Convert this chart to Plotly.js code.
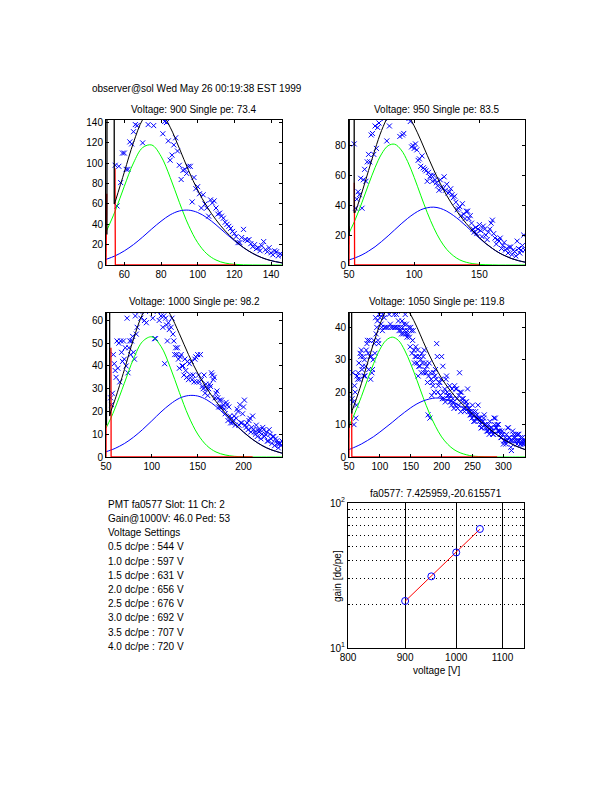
<!DOCTYPE html>
<html><head><meta charset="utf-8">
<script src="https://cdn.plot.ly/plotly-3.0.1.min.js"></script>
<style>html,body{margin:0;padding:0;background:#fff}#chart{width:612px;height:792px}</style>
</head><body><div id="chart"></div>
<script>
// ---------------- data ----------------
const voltages = [900, 950, 1000, 1050];
const singlePe = [73.4, 83.5, 98.2, 119.8];

// histogram counts (1 ADC-count bins, first bin given by *Start)
const h900Start = 55;
const h900Counts = [98,58,97,81,110,110,94,94,121,119,131,138,137,148,152,120,150,155,138,160,
150,137,156,149,158,150,129,141,140,122,103,108,118,125,112,98,84,93,94,90,
97,97,62,86,75,77,70,56,69,60,56,48,64,61,63,56,50,51,48,46,
42,40,38,36,33,31,28,22,22,27,35,25,24,25,21,18,20,16,17,14,
19,23,15,13,17,12,10,14,13,9,11,10];
const h950Start = 54;
const h950Counts = [81,38,44,49,47,58,38,57,64,56,69,74,69,87,88,74,93,78,92,95,
99,102,105,98,101,83,108,93,110,104,112,106,103,108,99,86,102,87,88,105,
99,101,98,96,79,80,78,81,77,70,71,66,73,65,64,63,56,62,59,60,
56,60,57,55,53,50,57,52,51,59,50,54,48,49,51,47,45,46,42,37,
38,39,33,41,34,31,36,36,31,33,28,24,22,25,21,24,27,23,19,26,
24,20,17,22,24,28,30,21,18,14,17,16,18,11,13,15,10,11,8,12,
12,7,10,9,6,16,11,8,10,13,20,10];
const h1000Start = 55;
const h1000Counts = [26,23,28,45,41,38,35,51,39,50,33,51,46,42,51,43,48,40,61,37,
48,51,45,51,53,46,43,62,54,57,66,64,68,61,70,65,67,60,64,59,
66,72,68,65,70,73,61,66,52,52,69,64,71,60,67,62,65,57,62,41,
61,58,51,59,56,66,57,61,54,51,45,48,45,48,43,39,44,45,40,40,
36,43,38,35,42,34,41,36,42,34,36,33,43,44,33,45,36,33,45,34,
31,30,36,28,32,30,27,30,32,31,37,36,34,35,26,28,29,26,22,25,
22,25,22,23,21,19,24,23,16,22,18,15,17,15,16,18,14,17,21,20,
14,23,15,15,19,22,25,14,13,15,12,16,17,11,13,18,12,11,10,14,
9,12,11,12,8,10,13,12,9,10,11,7,7,12,10,8,6,9,9,5,
8,7,6,4,6,6,5,7];
const h1050Start = 55;
const h1050Counts = [18,26,17,10,22,20,12,16,25,24,26,29,24,32,31,33,27,28,31,25,
30,25,28,33,35,36,32,27,36,31,24,31,26,27,30,36,35,32,43,38,
40,42,36,35,44,43,45,41,40,39,44,47,43,40,46,40,45,48,40,46,
44,47,41,40,46,45,40,49,44,40,47,40,44,45,40,42,39,46,40,39,
38,42,40,38,41,39,44,38,41,37,39,38,40,37,34,40,39,32,36,39,
33,29,31,34,31,29,33,25,28,31,28,30,26,32,29,31,26,33,27,29,
26,28,23,13,25,29,12,26,24,19,23,22,26,20,25,27,24,35,31,20,
22,23,23,19,24,31,18,28,20,18,21,17,24,25,20,19,19,18,22,17,
19,16,21,18,17,15,22,16,21,21,18,15,16,19,26,20,14,20,18,17,
18,15,14,15,17,17,16,21,15,14,15,13,14,13,12,16,14,11,13,11,
14,12,13,12,16,12,11,12,10,9,9,11,11,12,13,10,9,10,8,9,
8,10,7,11,9,8,9,8,7,7,12,10,12,9,9,10,8,10,8,8,
7,6,6,8,7,4,5,5,6,4,7,5,9,9,6,6,5,3,2,5,
8,7,6,5,6,7,5,4,7,5,7,5,4,6,4,5,6,4,5,4,5];

// fitted curves: single-pe (green), double-pe (blue), total (black), pedestal (red)
const fit900X = [50,55,60,65,70,75,80,85,90,95,100,105,110,115,120,125,130,135,140,146];
const green900 = [32.3,53.0,77.4,100.3,115.4,117.9,106.9,86.1,61.6,39.1,22.0,11.0,4.9,1.9,0.7,0.2,0.05,0,0,0];
const blue900 = [5.5,9.0,13.9,20.1,27.5,35.5,43.0,49.3,53.1,53.9,51.6,46.5,39.5,31.6,23.9,17.0,11.4,7.2,4.3,2.1];
const total900X = [55,60,65,70,75,80,85,90,95,100,105,110,115,120,125,130,135,140,146];
const total900 = [62.0,91.3,120.4,142.9,153.4,149.9,135.4,114.7,93.0,73.6,57.5,44.4,33.5,24.6,17.2,11.5,7.2,4.3,2.1];
const ped900X = [50,50.4,null,54.9,55.1,121];
const ped900Y = [0,70,null,95,0,0];
const spike900X = [50.5,50.7,54.3,54.5,55];
const spike900Y = [30,999,999,60,62.0];

const fit950X = [50,55,60,65,70,75,80,85,90,95,100,105,110,115,120,125,130,135,140,145,150,155,160,165,170,175,180,185];
const green950 = [21.3,30.8,42.0,53.9,65.2,74.3,79.8,80.8,77.0,69.2,58.6,46.7,35.1,24.9,16.6,10.4,6.2,3.4,1.8,0.9,0.4,0.2,0.1,0,0,0,0,0];
const blue950 = [3.4,4.9,6.8,9.3,12.2,15.7,19.5,23.5,27.5,31.2,34.4,36.9,38.3,38.7,37.9,36.0,33.2,29.8,25.9,21.9,17.9,14.2,11.0,8.2,6.0,4.2,2.9,1.9];
const total950X = [55,60,65,70,75,80,85,90,95,100,105,110,115,120,125,130,135,140,145,150,155,160,165,170,175,180,185];
const total950 = [35.7,48.8,63.2,77.4,90.0,99.3,104.3,104.5,100.4,93.0,83.6,73.4,63.6,54.5,46.4,39.4,33.2,27.7,22.8,18.3,14.4,11.1,8.2,6.0,4.2,2.9,1.9];
const ped950X = [50,50.2,null,54.1,54.3,150];
const ped950Y = [0,26,null,55,0,0];
const spike950X = [50.2,50.4,53.8,54.0,55];
const spike950Y = [20,999,999,35,35.7];

const fit1000X = [50,55,60,70,80,90,100,110,120,130,140,150,160,170,180,190,200,210,220,230,242];
const green1000 = [12.7,16.8,21.6,32.4,43.1,50.8,52.8,48.6,39.5,28.4,18.0,10.1,5.0,2.2,0.9,0.3,0.1,0,0,0,0];
const blue1000 = [2.3,3.0,3.8,5.9,8.7,12.1,15.9,19.8,23.2,25.8,27.0,26.8,25.1,22.2,18.5,14.6,10.9,7.7,5.1,3.2,1.7];
const total1000X = [55,60,70,80,90,100,110,120,130,140,150,160,170,180,190,200,210,220,230,242];
const total1000 = [19.8,25.4,38.3,51.8,62.9,68.7,68.4,62.7,54.2,45.0,36.9,30.1,24.4,19.4,14.9,11.0,7.7,5.1,3.2,1.7];
const ped1000X = [50,50.4,null,55.4,55.6,210];
const ped1000Y = [0,47,null,48,0,0];
const spike1000X = [50.5,50.7,53.8,54.0,55];
const spike1000Y = [14,999,999,18,19.8];

const fit1050X = [50,55,60,70,80,90,100,110,120,130,140,150,160,170,180,190,200,210,220,230,240,250,260,270,280,290,300,310,320,335];
const green1050 = [9.6,11.6,13.8,18.6,23.9,28.9,33.2,36.0,37.0,36.0,33.0,28.7,23.7,18.4,13.6,9.5,6.2,3.9,2.3,1.3,0.7,0.3,0.15,0.05,0,0,0,0,0,0];
const blue1050 = [2.3,2.7,3.1,4.0,5.1,6.3,7.7,9.2,10.7,12.3,13.8,15.2,16.4,17.3,17.9,18.2,18.1,17.6,16.8,15.7,14.4,12.9,11.4,9.8,8.3,6.8,5.5,4.4,3.4,2.3];
const total1050X = [55,60,70,80,90,100,110,120,130,140,150,160,170,180,190,200,210,220,230,240,250,260,270,280,290,300,310,320,335];
const total1050 = [14.3,16.9,22.6,29.0,35.2,40.9,45.2,47.7,48.3,46.8,43.9,40.1,35.7,31.5,27.7,24.3,21.5,19.1,17.0,15.1,13.2,11.55,9.85,8.3,6.8,5.5,4.4,3.4,2.3];
const ped1050X = [50,50.2,null,54.3,54.6,290];
const ped1050Y = [0,10,null,14,0,0];
const spike1050X = [50.3,50.5,54.0,54.3,55];
const spike1050Y = [9,999,999,13.4,14.3];

// gain vs voltage
const gainVolts = [900, 950, 1000, 1050];
const gainMeasured = [21.1, 31.2, 45.6, 66.2];
const gainFit = [21.0, 31.4, 45.8, 65.9];
const fitSlope = '7.425959', fitIntercept = '-20.615571';
const gainXTicks = [800, 900, 1000, 1100];

// text block
const header = 'observer@sol Wed May 26 00:19:38 EST 1999';
const pmtLines = ['PMT fa0577 Slot: 11 Ch: 2', 'Gain@1000V: 46.0 Ped: 53', 'Voltage Settings'];
const dcPerPe = ['0.5','1.0','1.5','2.0','2.5','3.0','3.5','4.0'];
const settingVolts = [544, 597, 631, 656, 676, 692, 707, 720];

// ---------------- drawing ----------------
const FONT = '"Liberation Sans", Arial, Helvetica, sans-serif';
const W = 612, H = 792;
const px = v => v / W, py = v => 1 - v / H;

const panels = [
  {counts:h900Counts, start:h900Start, fx:fit900X, g:green900, b:blue900, tx:total900X, t:total900, pX:ped900X, pY:ped900Y, sX:spike900X, sY:spike900Y,
   xr:[50,146], yr:[0,142.5], xt:[60,80,100,120,140], yd:20, dx:[106,282], dy:[120,265]},
  {counts:h950Counts, start:h950Start, fx:fit950X, g:green950, b:blue950, tx:total950X, t:total950, pX:ped950X, pY:ped950Y, sX:spike950X, sY:spike950Y,
   xr:[50,185], yr:[0,97], xt:[50,100,150], yd:20, dx:[349,525], dy:[120,265]},
  {counts:h1000Counts, start:h1000Start, fx:fit1000X, g:green1000, b:blue1000, tx:total1000X, t:total1000, pX:ped1000X, pY:ped1000Y, sX:spike1000X, sY:spike1000Y,
   xr:[50,242], yr:[0,63.5], xt:[50,100,150,200], yd:10, dx:[106,282], dy:[312.5,457]},
  {counts:h1050Counts, start:h1050Start, fx:fit1050X, g:green1050, b:blue1050, tx:total1050X, t:total1050, pX:ped1050X, pY:ped1050Y, sX:spike1050X, sY:spike1050Y,
   xr:[50,335], yr:[0,44.6], xt:[50,100,150,200,250,300], yd:10, dx:[349,525], dy:[312.5,457]}
];

const axBase = {showline:true, linecolor:'#000', linewidth:1, mirror:'allticks', ticks:'inside', ticklen:3,
  tickcolor:'#000', tickwidth:1, showgrid:false, zeroline:false, fixedrange:true,
  tickfont:{family:FONT, size:10, color:'#000'}};

const traces = [];
const layout = {width:W, height:H, margin:{l:0,r:0,t:0,b:0}, paper_bgcolor:'#fff', plot_bgcolor:'#fff',
  showlegend:false, font:{family:FONT, size:10, color:'#000'}, annotations:[]};

function ann(text, x, y, anchor, extra) {
  return Object.assign({text:text, x:px(x), y:py(y), xref:'paper', yref:'paper', xanchor:anchor||'center',
    yanchor:'middle', showarrow:false, font:{family:FONT, size:10, color:'#000'}}, extra||{});
}

panels.forEach((p, k) => {
  const n = k + 1, xa = 'x' + (n === 1 ? '' : n), ya = 'y' + (n === 1 ? '' : n);
  const common = {type:'scatter', xaxis:xa, yaxis:ya, hoverinfo:'skip'};
  traces.push(Object.assign({mode:'markers', x:p.counts.map((c, i) => p.start + i), y:p.counts,
    marker:{symbol:'x-thin-open', size:5, color:'#0000ff', line:{width:1, color:'#0000ff'}}}, common));
  traces.push(Object.assign({mode:'lines', x:p.fx, y:p.g, line:{color:'#00ff00', width:1, shape:'spline', smoothing:1}}, common));
  traces.push(Object.assign({mode:'lines', x:p.fx, y:p.b, line:{color:'#0000ff', width:1, shape:'spline', smoothing:1}}, common));
  traces.push(Object.assign({mode:'lines', x:p.pX, y:p.pY, connectgaps:false, line:{color:'#ff0000', width:1.3}}, common));
  traces.push(Object.assign({mode:'lines', x:p.sX, y:p.sY, line:{color:'#000', width:1.3}}, common));
  traces.push(Object.assign({mode:'lines', x:p.tx, y:p.t, line:{color:'#000', width:1, shape:'spline', smoothing:1}}, common));
  layout['xaxis' + (n === 1 ? '' : n)] = Object.assign({}, axBase, {domain:[px(p.dx[0]), px(p.dx[1])], range:p.xr,
    tickmode:'array', tickvals:p.xt, anchor:ya});
  layout['yaxis' + (n === 1 ? '' : n)] = Object.assign({}, axBase, {domain:[py(p.dy[1]), py(p.dy[0])], range:p.yr,
    tick0:0, dtick:p.yd, anchor:xa});
  const cx = (p.dx[0] + p.dx[1]) / 2;
  layout.annotations.push(ann('Voltage: ' + voltages[k] + ' Single pe: ' + singlePe[k].toFixed(1), cx, p.dy[0] - 10.5));
});

// gain plot
traces.push({type:'scatter', mode:'lines', x:gainVolts, y:gainFit, xaxis:'x5', yaxis:'y5', line:{color:'#ff0000', width:1}, hoverinfo:'skip'});
traces.push({type:'scatter', mode:'markers', x:gainVolts, y:gainMeasured, xaxis:'x5', yaxis:'y5',
  marker:{symbol:'circle-open', size:7, color:'#0000ff', line:{width:1, color:'#0000ff'}}, hoverinfo:'skip'});
layout.xaxis5 = Object.assign({}, axBase, {type:'log', domain:[px(348), px(524)], range:[Math.log10(800), Math.log10(1150)],
  tickmode:'array', tickvals:gainXTicks, ticktext:gainXTicks.map(String), showgrid:true, gridcolor:'#000', gridwidth:1, anchor:'y5'});
layout.yaxis5 = Object.assign({}, axBase, {type:'log', domain:[py(648), py(503)], range:[1, 2],
  tickmode:'array', tickvals:[10, 100], ticktext:['10<sup>1</sup>', '10<sup>2</sup>'], anchor:'x5',
  minor:{tickmode:'array', tickvals:[20,30,40,50,60,70,80,90], ticks:'inside', ticklen:2, tickcolor:'#000',
    showgrid:true, gridcolor:'#000', gridwidth:1, griddash:'1px,3px'}});
layout.annotations.push(ann('fa0577: ' + fitSlope + ',' + fitIntercept, 436, 493));
layout.annotations.push(ann('voltage [V]', 436, 670));
layout.annotations.push(ann('gain [dc/pe]', 337, 576, 'center', {textangle:-90}));

// header + text block
layout.annotations.push(ann(header, 90, 88, 'left'));
const lines = pmtLines.concat(dcPerPe.map((d, i) => d + ' dc/pe : ' + settingVolts[i] + ' V'));
lines.forEach((t, i) => layout.annotations.push(ann(t, 106, 504.3 + 14.2 * i, 'left')));

Plotly.newPlot('chart', traces, layout, {staticPlot:true, displayModeBar:false});
</script></body></html>
